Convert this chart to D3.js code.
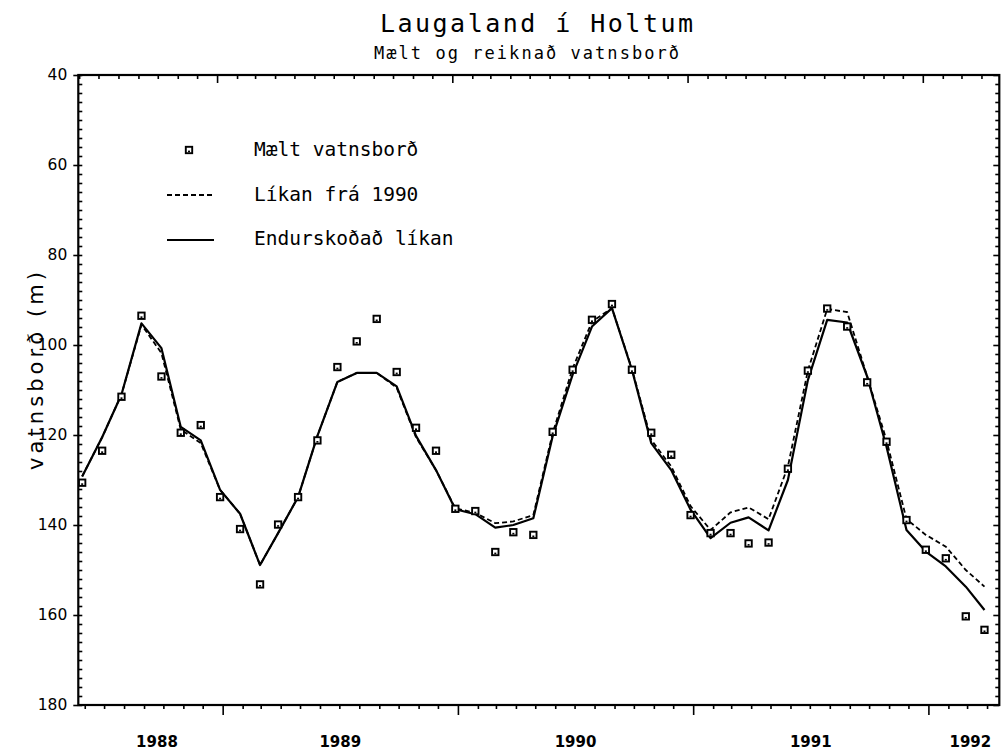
<!DOCTYPE html>
<html>
<head>
<meta charset="utf-8">
<script src="https://cdn.jsdelivr.net/npm/d3@7"></script>
<style>
  html, body { margin: 0; padding: 0; background: #fff; }
  svg { display: block; }
</style>
</head>
<body>
<svg id="chart" width="1003" height="752"></svg>
<script>
// ---------------- DATA ----------------
const months = [
  "1988-05","1988-06","1988-07","1988-08","1988-09","1988-10","1988-11","1988-12",
  "1989-01","1989-02","1989-03","1989-04","1989-05","1989-06","1989-07","1989-08","1989-09","1989-10","1989-11","1989-12",
  "1990-01","1990-02","1990-03","1990-04","1990-05","1990-06","1990-07","1990-08","1990-09","1990-10","1990-11","1990-12",
  "1991-01","1991-02","1991-03","1991-04","1991-05","1991-06","1991-07","1991-08","1991-09","1991-10","1991-11","1991-12",
  "1992-01","1992-02","1992-03"
];
// Mælt vatnsborð (measured water level, m)
const measured = [
  130.6,123.5,111.5,93.5,107.0,119.5,117.8,133.8,
  140.9,153.2,139.9,133.8,121.2,104.9,99.2,94.2,106.0,118.4,123.5,136.4,
  136.9,146.0,141.6,142.2,119.3,105.5,94.4,90.9,105.5,119.5,124.4,137.8,
  141.8,141.8,144.1,143.9,127.5,105.7,91.9,95.9,108.3,121.5,138.9,145.5,
  147.4,160.3,163.3
];
// Líkan frá 1990 (dashed)
const model1990 = [
  129.2,120.5,111.0,95.5,101.8,118.8,121.8,132.2,
  137.5,148.9,141.8,133.8,120.2,108.2,106.2,106.2,109.5,120.5,127.8,136.3,
  137.3,139.6,139.2,137.8,119.6,105.2,94.8,91.8,105.3,121.1,127.0,135.8,
  141.1,137.2,136.1,138.7,127.0,105.7,92.0,92.7,107.0,121.2,138.7,142.2,
  144.8,150.0,153.7
];
// Endurskoðað líkan (solid)
const modelRevised = [
  129.2,120.5,111.0,95.2,100.7,118.2,121.2,132.2,
  137.5,148.9,141.8,133.8,120.2,108.2,106.2,106.2,109.2,120.2,127.8,136.5,
  137.6,140.6,140.0,138.5,120.3,106.6,95.9,91.8,105.5,121.8,127.8,136.6,
  142.9,139.5,138.3,141.2,130.0,107.8,94.4,95.0,107.0,122.6,141.1,145.9,
  149.2,153.7,158.9
];
const yearLabels = ["1988","1989","1990","1991","1992"];
const yTickLabels = [40,60,80,100,120,140,160,180];
const titleText = "Laugaland í Holtum";
const subtitleText = "Mælt og reiknað vatnsborð";
const yAxisTitle = "vatnsborð (m)";
const legendLabels = ["Mælt vatnsborð", "Líkan frá 1990", "Endurskoðað líkan"];

// ---------------- LAYOUT ----------------
const svg = d3.select("#chart");
const L = 78.3, R = 999.3, T = 75, B = 705;
const parseMonth = d3.timeParse("%Y-%m");
// measurements are taken near the end of each month
const dates = months.map(m => { const d = parseMonth(m); d.setDate(28); return d; });

const x = d3.scaleTime()
  .domain([new Date(1988, 4, 22), new Date(1992, 3, 20)])
  .range([L, R]);
const y = d3.scaleLinear().domain([40, 180]).range([T, B]);

svg.append("rect").attr("width", 1003).attr("height", 752).attr("fill", "#fff");

// ---------------- AXES ----------------
const monthTicks = d3.timeMonth.range(d3.timeMonth.ceil(x.domain()[0]), x.domain()[1]);
const minorY = d3.range(40, 181, 2);

function styleAxis(g) {
  g.select(".domain").remove();
  g.selectAll("line").attr("stroke", "#000").attr("stroke-width", 1.6);
}

// bottom ticks (outward)
svg.append("g").attr("transform", `translate(0,${B})`)
  .call(d3.axisBottom(x).tickValues(monthTicks).tickSize(4).tickFormat(""))
  .call(styleAxis)
  .call(g => g.selectAll(".tick line").filter(d => d.getMonth() === 0).attr("y2", 10));

// top ticks (inward)
svg.append("g").attr("transform", `translate(-5.6,${T})`)
  .call(d3.axisBottom(x).tickValues(monthTicks).tickSize(4).tickFormat(""))
  .call(styleAxis)
  .call(g => g.selectAll(".tick line").filter(d => d.getMonth() === 0).attr("y2", 8));

// left minor ticks (inward)
svg.append("g").attr("transform", `translate(${L},0)`)
  .call(d3.axisRight(y).tickValues(minorY).tickSize(4).tickFormat(""))
  .call(styleAxis);

// left labelled ticks (outward)
svg.append("g").attr("transform", `translate(${L},0)`)
  .call(d3.axisLeft(y).tickValues(yTickLabels).tickSize(5).tickPadding(6))
  .call(styleAxis)
  .call(g => g.selectAll("text")
    .attr("font-family", "DejaVu Sans")
    .attr("font-size", 15.5)
    .attr("fill", "#000"));

// right minor ticks (inward)
svg.append("g").attr("transform", `translate(${R},0)`)
  .call(d3.axisLeft(y).tickValues(minorY).tickSize(4).tickFormat(""))
  .call(styleAxis)
  .call(g => g.selectAll(".tick line").filter(d => d % 20 === 0).attr("x2", -6));

// frame
svg.append("rect")
  .attr("x", L).attr("y", T).attr("width", R - L).attr("height", B - T)
  .attr("fill", "none").attr("stroke", "#000").attr("stroke-width", 2.2);

// year labels centred on the visible part of each year
const [d0, d1] = x.domain();
svg.append("g").selectAll("text")
  .data(yearLabels)
  .join("text")
  .attr("x", yr => {
    const a = new Date(+yr, 0, 1), b = new Date(+yr + 1, 0, 1);
    const clipped = a < d0 || b > d1;
    const s = a < d0 ? d0 : a, e = b > d1 ? d1 : b;
    return (x(s) + x(e)) / 2 + (clipped ? 6.5 : 0);
  })
  .attr("y", 746.5)
  .attr("text-anchor", "middle")
  .attr("font-family", "DejaVu Sans")
  .attr("font-weight", "bold")
  .attr("font-size", 15)
  .text(d => d);

// y axis title
svg.append("text")
  .attr("transform", "translate(43,371) rotate(-90)")
  .attr("text-anchor", "middle")
  .attr("font-family", "DejaVu Sans")
  .attr("font-size", 21)
  .attr("textLength", 198)
  .attr("lengthAdjust", "spacing")
  .text(yAxisTitle);

// titles
svg.append("text")
  .attr("x", 380).attr("y", 31.7)
  .attr("font-family", "DejaVu Sans Mono")
  .attr("font-size", 25)
  .attr("textLength", 313)
  .attr("lengthAdjust", "spacing")
  .text(titleText);
svg.append("text")
  .attr("x", 374).attr("y", 58.5)
  .attr("font-family", "DejaVu Sans Mono")
  .attr("font-size", 17)
  .attr("textLength", 305)
  .attr("lengthAdjust", "spacing")
  .text(subtitleText);

// ---------------- SERIES ----------------
const lineGen = vals => d3.line()
  .x((d, i) => x(dates[i]))
  .y(d => y(d))(vals);

svg.append("path")
  .attr("d", lineGen(model1990))
  .attr("fill", "none").attr("stroke", "#000")
  .attr("stroke-width", 1.8).attr("stroke-dasharray", "5,3");

svg.append("path")
  .attr("d", lineGen(modelRevised))
  .attr("fill", "none").attr("stroke", "#000")
  .attr("stroke-width", 2.2).attr("stroke-linejoin", "round");

function marker(g, cx, cy) {
  g.append("rect").attr("x", cx - 3.2).attr("y", cy - 3.2).attr("width", 6.4).attr("height", 6.4)
    .attr("fill", "#fff").attr("stroke", "#000").attr("stroke-width", 1.9);
  g.append("rect").attr("x", cx - 1).attr("y", cy + 0.6).attr("width", 2).attr("height", 1.6).attr("fill", "#000");
}
const mg = svg.append("g");
measured.forEach((v, i) => marker(mg, x(dates[i]), y(v)));

// ---------------- LEGEND ----------------
const lg = svg.append("g");
marker(lg, 189, 150);
lg.append("line").attr("x1", 167).attr("x2", 214).attr("y1", 195).attr("y2", 195)
  .attr("stroke", "#000").attr("stroke-width", 1.8).attr("stroke-dasharray", "5,3");
lg.append("line").attr("x1", 167).attr("x2", 214).attr("y1", 240).attr("y2", 240)
  .attr("stroke", "#000").attr("stroke-width", 2);
lg.selectAll("text.leg")
  .data(legendLabels)
  .join("text")
  .attr("class", "leg")
  .attr("x", 254)
  .attr("y", (d, i) => 156 + i * 44.5)
  .attr("font-family", "DejaVu Sans Mono")
  .attr("font-size", 19.5)
  .text(d => d);
</script>
</body>
</html>
